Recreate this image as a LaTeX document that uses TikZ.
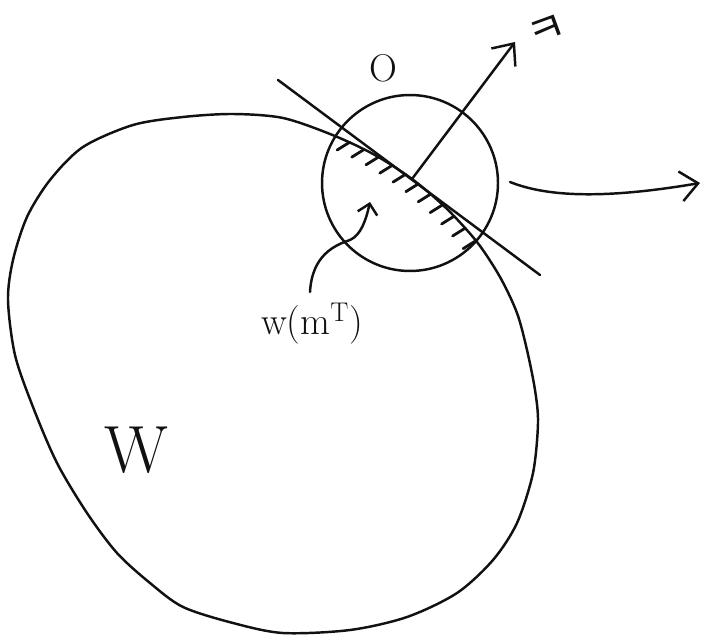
\documentclass[tikz,border=0pt]{standalone}
\usepackage{fontspec}
\newfontfamily\kofont{Noto Sans CJK KR}
\usetikzlibrary{arrows.meta, calc}
\definecolor{sketchink}{HTML}{111111}

\begin{document}
\begin{tikzpicture}[
  x=0.02cm, y=-0.02cm,
  line width=1.4pt, line cap=round, line join=round,
  >={Straight Barb[length=3.5mm, width=6mm]},
  ink/.style   = {draw=sketchink, line width=1.4pt},
  hatch/.style = {draw=sketchink, line width=1.6pt},
  nbhd/.style  = {draw=sketchink, line width=1.4pt, circle, inner sep=0pt,
                  minimum size=3.52cm},
  lbl/.style   = {text=sketchink, inner sep=1pt, anchor=center},
  small/.style = {-{Straight Barb[length=2mm, width=4mm]}}
]
\useasboundingbox (0,0) rectangle (702,638);

\coordinate (tp)    at (412,179);
\coordinate (nTip)  at (515,42);
\coordinate (tanA)  at (278,80);
\coordinate (tanB)  at (540,275);
\coordinate (flowA) at (510,182);
\coordinate (flowB) at (700,183);
\coordinate (curlA) at (310,292);
\coordinate (curlB) at (370,202);

% 区域 W
\draw[ink] plot[smooth cycle, tension=0.5] coordinates {
  (183,117) (233,114) (283,118) (332.5,135) (374,154.5) (412,179)
  (446,208) (477,242) (500,277) (517,313) (527,350) (535,390) (538,423)
  (533,473) (517,523) (493,560) (457,593) (407,617) (350,630) (283,633)
  (233,623) (183,607) (150,583) (117,553) (87,513) (57,463) (33,407)
  (15,355) (8,300) (13,260) (27,217) (50,180) (83,147) (133,125)};

% 邻域与切线
\node[nbhd] (ball) at (410,183) {};
\draw[ink] (tanA) -- (tanB);

% 边界上的阴影
\foreach \s in {-72,-56,...,88} {
  \pgfmathsetmacro{\dv}{0.0015*\s*\s}
  \draw[hatch] ($(tp)+(\s*0.802-\dv*0.597, \s*0.597+\dv*0.802)$) -- ++(-12.5,7.8);
}

% 法向量与流动
\draw[ink, ->] (tp) -- (nTip);
\draw[ink, ->] (flowA) .. controls (545,196) and (600,200) .. (flowB);
\draw[ink, small] (curlA) .. controls (312,255) and (335,245) .. (350,240)
                  .. controls (361,235) and (366,220) .. (curlB);

\node[lbl, font=\fontsize{22}{26}\selectfont] (olbl) at (383,68) {O};
\node[lbl, font=\kofont\fontsize{24}{26}\selectfont, rotate=20, inner sep=0pt,
      text height=0.75em, text depth=-0.2em] (nlbl) at (549,38) {ㅋ};
\node[lbl, font=\fontsize{22}{26}\selectfont] (wlbl) at (312,324) {w(m$^{\mathrm{T}}$)};
\node[lbl, font=\fontsize{38}{42}\selectfont] (bigw) at (136,450) {W};

\end{tikzpicture}
\end{document}
